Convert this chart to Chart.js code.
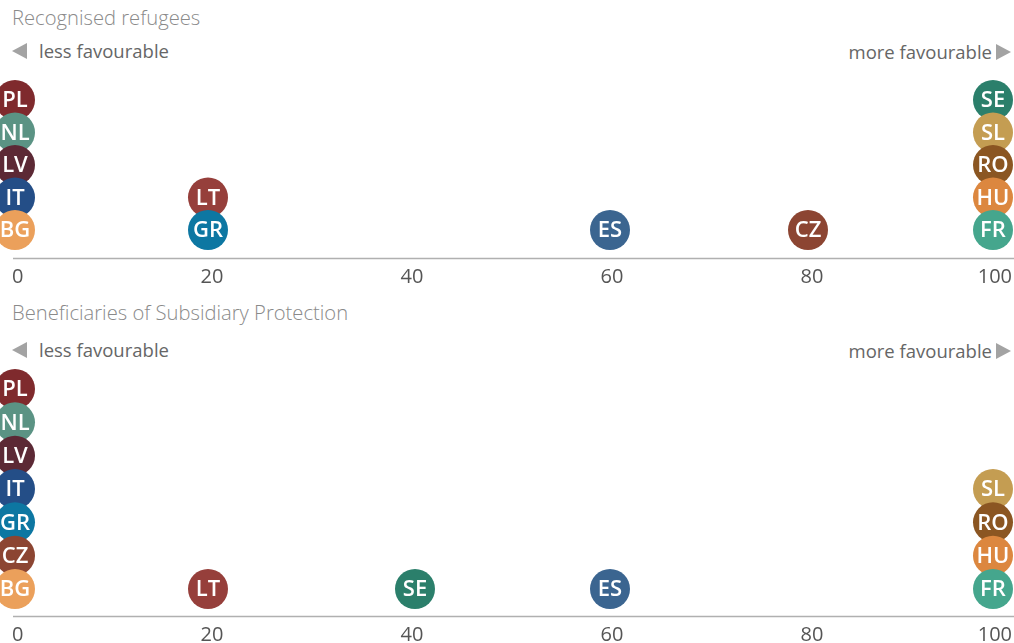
<!DOCTYPE html>
<html>
<head>
<meta charset="utf-8">
<script src="https://cdn.jsdelivr.net/npm/chart.js@4.4.1/dist/chart.umd.min.js"></script>
<style>
html, body { margin: 0; padding: 0; background: #fff; overflow: hidden; width: 1014px; height: 643px; }
body { position: relative; font-family: "Open Sans", "Noto Sans", sans-serif; }
.titulo { position: absolute; left: 12px; font-size: 20.2px; font-weight: 300; color: #8a8a8a; line-height: 24px; white-space: nowrap; }
.fila { position: absolute; left: 0; width: 1014px; height: 24px; font-size: 18.5px; color: #666; line-height: 24px; white-space: nowrap; }
.izq { position: absolute; left: 39px; top: 0; }
.der { position: absolute; right: 22px; top: 1px; }
.tri-izq { position: absolute; left: 12px; top: 4px; width: 0; height: 0; border-top: 8px solid transparent; border-bottom: 8px solid transparent; border-right: 15px solid #a3a3a3; }
.tri-der { position: absolute; right: 3px; top: 5px; width: 0; height: 0; border-top: 8px solid transparent; border-bottom: 8px solid transparent; border-left: 15px solid #a3a3a3; }
.panel { position: absolute; left: -8px; }
</style>
</head>
<body>
<div class="titulo" style="top:5px">Recognised refugees</div>
<div class="fila" style="top:39px"><span class="tri-izq"></span><span class="izq">less favourable</span><span class="der">more favourable</span><span class="tri-der"></span></div>
<canvas id="graficoRefugiados" class="panel" style="top:50px" width="1040" height="240"></canvas>

<div class="titulo" style="top:300px">Beneficiaries of Subsidiary Protection</div>
<div class="fila" style="top:338px"><span class="tri-izq"></span><span class="izq">less favourable</span><span class="der">more favourable</span><span class="tri-der"></span></div>
<canvas id="graficoSubsidiaria" class="panel" style="top:346px" width="1040" height="302"></canvas>

<script>
// Datos
const paises = ['BG', 'CZ', 'ES', 'FR', 'GR', 'HU', 'IT', 'LT', 'LV', 'NL', 'PL', 'RO', 'SL', 'SE'];
const colores = ['#eba05b', '#8c4532', '#3b6590', '#45a68d', '#0d77a2', '#dc873f', '#244e87',
                 '#963f3b', '#5c2935', '#5b9384', '#7f2a2d', '#8b5622', '#c49d52', '#2b7f6b'];
const refugiados = [0, 79.6, 59.8, 100, 19.6, 100, 0, 19.6, 0, 0, 0, 100, 100, 100];
const subsidiaria = [0, 0, 59.8, 100, 0, 100, 0, 19.6, 0, 0, 0, 100, 100, 40.3];
const ticksX = [0, 20, 40, 60, 80, 100];

const RADIO = 20;
const DESPLAZAMIENTO = 8; // el canvas empieza 8px a la izquierda de la pagina
const ANCHO_PAGINA = 1014;

// Apila los paises con el mismo valor (nivel 0 abajo)
function armarPuntos(valores) {
    const niveles = {};
    const puntos = paises.map((pais, i) => {
        const v = valores[i];
        const nivel = niveles[v] || 0;
        niveles[v] = nivel + 1;
        return { x: v, y: nivel, pais: pais, color: colores[i] };
    });
    // los de abajo se dibujan al final, encima de los otros
    return puntos.sort((a, b) => b.y - a.y);
}

const pluginCirculos = {
    id: 'circulos',
    beforeDatasetsDraw(chart) {
        // mantener los circulos dentro de la pagina, como en el original
        const meta = chart.getDatasetMeta(0);
        const minX = DESPLAZAMIENTO + 15;
        const maxX = DESPLAZAMIENTO + ANCHO_PAGINA - 21;
        meta.data.forEach(el => {
            el.x = Math.min(Math.max(el.x, minX), maxX);
        });
    },
    afterDatasetsDraw(chart) {
        const ctx = chart.ctx;
        const meta = chart.getDatasetMeta(0);
        const datos = chart.data.datasets[0].data;
        ctx.save();
        ctx.fillStyle = '#ffffff';
        ctx.font = '600 22px "Open Sans", "Noto Sans", sans-serif';
        ctx.textAlign = 'center';
        ctx.textBaseline = 'middle';
        meta.data.forEach((el, i) => ctx.fillText(datos[i].pais, el.x, el.y + 1));
        ctx.restore();
    },
    afterDraw(chart) {
        const ctx = chart.ctx;
        const y = Math.round(chart.chartArea.bottom) + 0.5;
        ctx.save();
        ctx.strokeStyle = '#b0b0b0';
        ctx.lineWidth = 1.5;
        ctx.beginPath();
        ctx.moveTo(DESPLAZAMIENTO + 13, y);
        ctx.lineTo(chart.width, y);
        ctx.stroke();
        ctx.restore();
    }
};

function crearGrafico(id, valores, yMin, yMax) {
    const puntos = armarPuntos(valores);
    const ctx = document.getElementById(id).getContext('2d');
    return new Chart(ctx, {
        type: 'scatter',
        data: {
            datasets: [{
                data: puntos,
                pointRadius: RADIO,
                pointHoverRadius: RADIO,
                pointBorderWidth: 0,
                pointBackgroundColor: puntos.map(p => p.color),
                clip: false
            }]
        },
        options: {
            responsive: false,
            animation: false,
            events: [],
            layout: { padding: 0 },
            plugins: {
                legend: { display: false },
                tooltip: { enabled: false }
            },
            scales: {
                x: {
                    type: 'linear',
                    min: 0,
                    max: 100,
                    grid: { display: false, drawTicks: false },
                    border: { display: false },
                    afterBuildTicks: s => { s.ticks = ticksX.map(v => ({ value: v })); },
                    afterFit: s => { s.height = 32; s.paddingLeft = 0; s.paddingRight = 0; },
                    ticks: {
                        align: 'inner',
                        padding: 7,
                        color: '#555',
                        font: { family: '"Open Sans", "Noto Sans", sans-serif', size: 20 }
                    }
                },
                y: {
                    display: false,
                    min: yMin,
                    max: yMax
                }
            }
        },
        plugins: [pluginCirculos]
    });
}

crearGrafico('graficoRefugiados', refugiados, -0.862, 4.923);
crearGrafico('graficoSubsidiaria', subsidiaria, -0.81, 6.69);
</script>
</body>
</html>
